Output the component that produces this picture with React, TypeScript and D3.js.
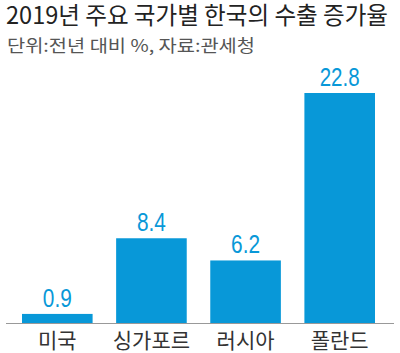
import { useEffect, useRef } from "react";
import * as d3 from "d3";

// data
const countries = ["미국", "싱가포르", "러시아", "폴란드"];
const growth = [0.9, 8.4, 6.2, 22.8];
const titleText = "2019년 주요 국가별 한국의 수출 증가율";
const subtitleText = "단위:전년 대비 %, 자료:관세청";

const W = 400;
const H = 353;
const BLUE = "#0898d8";
const KR = "'Noto Sans CJK KR', 'Noto Sans', sans-serif";

const App = () => {
	const svgRef = useRef<SVGSVGElement>(null);

	useEffect(() => {
		if (!svgRef.current) return;
		const svg = d3.select(svgRef.current);
		svg.selectAll("*").remove();

		const baseline = 323;

		const x = d3
			.scaleBand<string>()
			.domain(countries)
			.range([22, 375])
			.paddingInner(0.25)
			.paddingOuter(0);

		const y = d3
			.scaleLinear()
			.domain([0, d3.max(growth)!])
			.range([baseline, 93]);

		// title
		svg
			.append("text")
			.attr("x", 6)
			.attr("y", 24)
			.attr("textLength", 382)
			.attr("lengthAdjust", "spacingAndGlyphs")
			.style("font-family", KR)
			.style("font-size", "24px")
			.style("font-weight", 400)
			.style("fill", "#222")
			.text(titleText);

		svg
			.append("text")
			.attr("x", 7)
			.attr("y", 52)
			.attr("textLength", 248)
			.attr("lengthAdjust", "spacingAndGlyphs")
			.style("font-family", KR)
			.style("font-size", "17px")
			.style("fill", "#555")
			.text(subtitleText);

		const data = countries.map((c, i) => ({ c, v: growth[i] }));

		// bars
		svg
			.selectAll("rect.bar")
			.data(data)
			.join("rect")
			.attr("class", "bar")
			.attr("x", (d) => x(d.c)!)
			.attr("width", x.bandwidth())
			.attr("y", (d) => y(d.v))
			.attr("height", (d) => baseline - y(d.v))
			.attr("fill", BLUE);

		// value labels
		svg
			.selectAll("text.val")
			.data(data)
			.join("text")
			.attr("class", "val")
			.attr("x", (d) => x(d.c)! + x.bandwidth() / 2)
			.attr("y", (d) => y(d.v) - 7)
			.attr("text-anchor", "middle")
			.attr("textLength", (d) => (d.v >= 10 ? 40 : 29))
			.attr("lengthAdjust", "spacingAndGlyphs")
			.style("font-family", "'Liberation Sans Narrow', 'Liberation Sans', sans-serif")
			.style("font-size", "26px")
			.style("font-weight", 500)
			.style("fill", BLUE)
			.text((d) => d.v.toFixed(1));

		// axis line
		svg
			.append("line")
			.attr("x1", 6)
			.attr("x2", 394)
			.attr("y1", baseline + 0.5)
			.attr("y2", baseline + 0.5)
			.attr("stroke", "#999")
			.attr("stroke-width", 1);

		// category labels
		svg
			.selectAll("text.cat")
			.data(data)
			.join("text")
			.attr("class", "cat")
			.attr("x", (d) => x(d.c)! + x.bandwidth() / 2)
			.attr("y", 348)
			.attr("text-anchor", "middle")
			.style("font-family", KR)
			.style("font-size", "21px")
			.style("fill", "#333")
			.text((d) => d.c);
	}, []);

	return (
		<svg
			ref={svgRef}
			width={W}
			height={H}
			style={{ position: "absolute", left: 0, top: 0, background: "#fff" }}
		/>
	);
};

export default App;
